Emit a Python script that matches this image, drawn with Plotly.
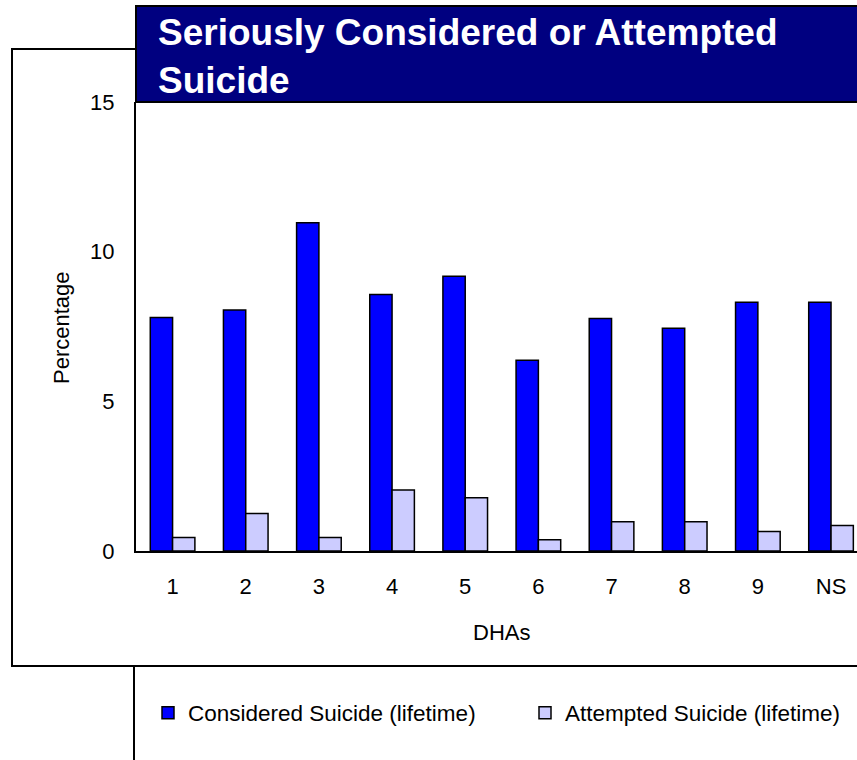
import plotly.graph_objects as go

# data
dhas = ["1", "2", "3", "4", "5", "6", "7", "8", "9", "NS"]
considered = [7.8, 8.05, 10.97, 8.57, 9.18, 6.37, 7.77, 7.44, 8.31, 8.31]
attempted = [0.45, 1.25, 0.45, 2.04, 1.78, 0.38, 0.98, 0.98, 0.65, 0.85]

TITLE = "Seriously Considered or Attempted<br>Suicide"
FONT = "Liberation Sans, Arial, sans-serif"

W, H = 857, 760
# plot area in window pixels (the reference crops the last category on the right)
L, R, T, B = 136, 857, 102, 551


def px(x):
    return (x - L) / (R - L)


def py(y):
    return (B - y) / (B - T)


fig = go.Figure()
fig.add_trace(go.Bar(
    x=dhas, y=considered, name="Considered Suicide (lifetime)", legend="legend",
    marker=dict(color="#0000FF", line=dict(color="black", width=1.5)),
))
fig.add_trace(go.Bar(
    x=dhas, y=attempted, name="Attempted Suicide (lifetime)", legend="legend2",
    marker=dict(color="#CCCCFF", line=dict(color="black", width=1.5)),
))

leg = dict(orientation="h", yanchor="middle", xanchor="left", y=py(713),
           font=dict(size=22.5), bgcolor="rgba(0,0,0,0)")

fig.update_layout(
    width=W, height=H,
    margin=dict(l=L, r=W - R, t=T, b=H - B, pad=0),
    paper_bgcolor="white", plot_bgcolor="white",
    barmode="group", bargap=0.39, bargroupgap=0,
    font=dict(family=FONT, size=22, color="black"),
    showlegend=True,
    legend=dict(leg, x=px(148)),
    legend2=dict(leg, x=px(525)),
)

fig.update_xaxes(
    type="category", range=[-0.5, 9.355], showline=True, linecolor="black",
    linewidth=2, showgrid=False, ticks="", ticklabelstandoff=15,
    tickfont=dict(size=22),
)
fig.update_yaxes(
    range=[0, 15], dtick=5, showline=True, linecolor="black", linewidth=2,
    showgrid=False, zeroline=False, ticks="", ticklabelstandoff=15,
    tickfont=dict(size=22),
)

# frames
fig.add_shape(type="rect", xref="paper", yref="paper",
              x0=px(12), x1=px(880), y0=py(666), y1=py(49),
              line=dict(color="black", width=2), layer="below")
fig.add_shape(type="rect", xref="paper", yref="paper",
              x0=px(136), x1=px(880), y0=py(102), y1=py(6),
              fillcolor="#000080", line=dict(color="black", width=2), layer="above")
fig.add_shape(type="line", xref="paper", yref="paper",
              x0=px(134), x1=px(134), y0=py(666), y1=py(770),
              line=dict(color="black", width=2))

# title and axis titles
fig.add_annotation(text=TITLE, xref="paper", yref="paper", x=px(156), y=py(56),
                   xanchor="left", yanchor="middle", align="left", showarrow=False,
                   font=dict(family=FONT, size=37, color="white", weight="bold"))
fig.add_annotation(text="DHAs", xref="x", yref="paper", x=4.5, y=py(632),
                   xanchor="center", yanchor="middle", showarrow=False,
                   font=dict(size=22))
fig.add_annotation(text="Percentage", xref="paper", yref="paper", x=px(61), y=py(328),
                   xanchor="center", yanchor="middle", textangle=-90, showarrow=False,
                   font=dict(size=22))

# drop the default page margin so the figure sits at the window corner
fig.write_html(
    "out.html",
    config={"displayModeBar": False},
    post_script="document.body.style.margin='0';document.body.style.overflow='hidden';",
)
